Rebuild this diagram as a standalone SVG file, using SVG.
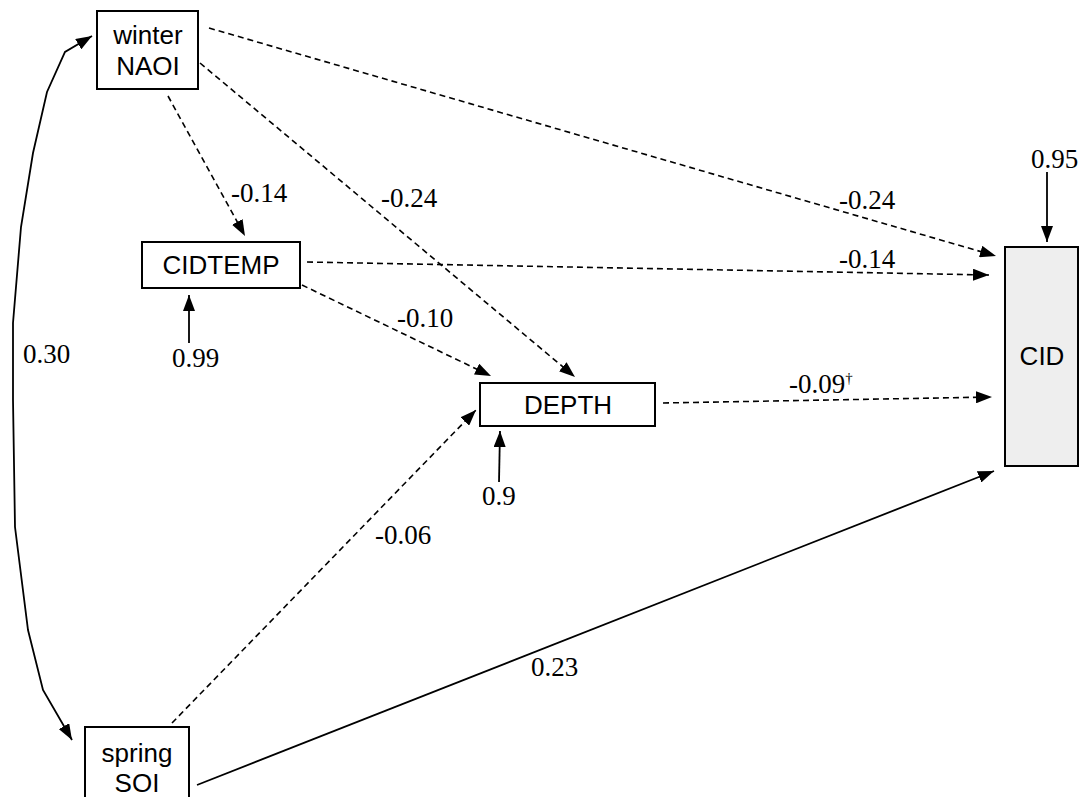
<svg xmlns="http://www.w3.org/2000/svg" width="1085" height="797" viewBox="0 0 1085 797">
<style>
.box{fill:#fff;stroke:#000;stroke-width:2}
.nt{font-family:"Liberation Sans",Arial,sans-serif;font-size:26px;fill:#000;text-anchor:middle}
.lb{font-family:"Liberation Serif","Times New Roman",serif;font-size:27px;fill:#000}
.d{fill:none;stroke:#000;stroke-width:1.6;stroke-dasharray:6,4;marker-end:url(#ah)}
.s{fill:none;stroke:#000;stroke-width:1.8;marker-end:url(#ah)}
</style>
<defs>
<marker id="ah" viewBox="0 0 16 12" refX="16" refY="6" markerWidth="16" markerHeight="12" markerUnits="userSpaceOnUse" orient="auto">
<path d="M0,0 L16,6 L0,12 Z" fill="#000"/>
</marker>
<marker id="ahs" viewBox="0 0 16 12" refX="0" refY="6" markerWidth="16" markerHeight="12" markerUnits="userSpaceOnUse" orient="auto">
<path d="M0,6 L16,0 L16,12 Z" fill="#000"/>
</marker>
</defs>
<rect width="1085" height="797" fill="#fff"/>
<g id="connectors">
<line class="d" x1="209" y1="28" x2="996" y2="256"/>
<line class="d" x1="200" y1="63" x2="575" y2="377"/>
<line class="d" x1="168" y1="96" x2="245" y2="236"/>
<line class="d" x1="307" y1="262" x2="989" y2="275"/>
<line class="d" x1="302" y1="285" x2="491" y2="376"/>
<line class="d" x1="663" y1="403" x2="992" y2="397"/>
<line class="d" x1="172" y1="723" x2="476" y2="410"/>
<line class="s" x1="197" y1="785" x2="994" y2="471"/>
<line class="s" x1="189" y1="343" x2="189" y2="295"/>
<line class="s" x1="499" y1="482" x2="500" y2="431"/>
<line class="s" x1="1047" y1="172" x2="1047" y2="242"/>
<path class="s" d="M72,740 L43,690 L28,630 L15,527 L13,400 L13,323 L21,227 L33,153 L47,92 L65,52 L92,36" style="marker-start:url(#ahs)"/>
</g>
<g id="winter-naoi">
<rect class="box" x="97" y="11" width="101" height="78"/>
<text class="nt" x="148" y="44">winter</text>
<text class="nt" x="148" y="75">NAOI</text>
</g>
<g id="cidtemp">
<rect class="box" x="142" y="242" width="158" height="46"/>
<text class="nt" x="221" y="274">CIDTEMP</text>
</g>
<g id="depth">
<rect class="box" x="480" y="383" width="175" height="43"/>
<text class="nt" x="568" y="414">DEPTH</text>
</g>
<g id="cid">
<rect class="box" x="1005" y="247" width="73" height="219" style="fill:#eeeeee"/>
<text class="nt" x="1042" y="365">CID</text>
</g>
<g id="spring-soi">
<rect class="box" x="85" y="727" width="104" height="80"/>
<text class="nt" x="137" y="762">spring</text>
<text class="nt" x="137" y="792">SOI</text>
</g>
<g id="labels">
<text class="lb" x="1031" y="168">0.95</text>
<text class="lb" x="839" y="209">-0.24</text>
<text class="lb" x="839" y="268">-0.14</text>
<text class="lb" x="789" y="393">-0.09<tspan font-size="15" dy="-10">†</tspan></text>
<text class="lb" x="381" y="207">-0.24</text>
<text class="lb" x="231" y="202">-0.14</text>
<text class="lb" x="397" y="327">-0.10</text>
<text class="lb" x="172" y="367">0.99</text>
<text class="lb" x="23" y="363">0.30</text>
<text class="lb" x="482" y="505">0.9</text>
<text class="lb" x="375" y="544">-0.06</text>
<text class="lb" x="531" y="676">0.23</text>
</g>
</svg>
